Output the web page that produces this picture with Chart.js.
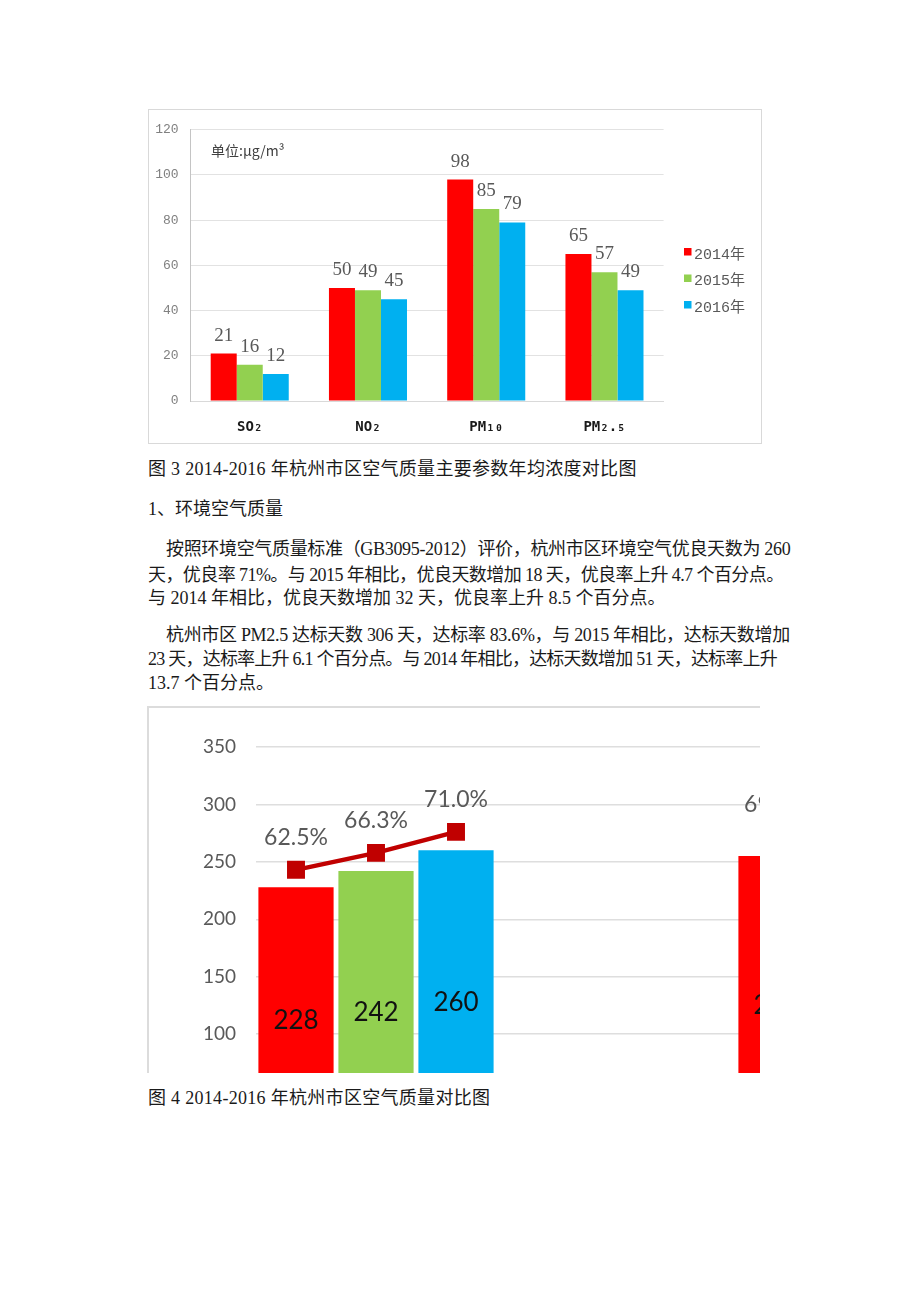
<!DOCTYPE html>
<html><head><meta charset="utf-8">
<script src="https://cdn.jsdelivr.net/npm/chart.js@4.4.1/dist/chart.umd.min.js"></script>
<style>
html,body{margin:0;padding:0;background:#fff;}
body{width:920px;height:1302px;position:relative;overflow:hidden;}
.t{position:absolute;font-family:'Liberation Serif','Noto Sans CJK SC',serif;font-size:18px;color:#1a1a1a;white-space:nowrap;line-height:24px;}
.c{letter-spacing:0.3px;}
#box1{position:absolute;left:148px;top:109px;width:612px;height:333px;border:1px solid #d9d9d9;}
#box2{position:absolute;left:147px;top:706px;width:611px;height:365px;overflow:hidden;border-left:2px solid #dcdcdc;border-top:2px solid #dcdcdc;}
#c1{position:absolute;left:0;top:0;}
#c2{position:absolute;left:0;top:0;}
#unit{position:absolute;left:62px;top:31px;font-family:'Noto Sans CJK SC',sans-serif;font-size:14px;color:#404040;line-height:18px;white-space:nowrap;}
</style>
</head><body>
<div id="box1"><canvas id="c1" width="612" height="333"></canvas><div id="unit">单位:μg/m³</div></div>
<div class="t c" style="left:148px;top:457px;">图 3 2014-2016 年杭州市区空气质量主要参数年均浓度对比图</div>
<div class="t" style="left:148px;top:497px;">1、环境空气质量</div>
<div class="t" style="left:166px;top:537px;letter-spacing:-0.33px;">按照环境空气质量标准（GB3095-2012）评价，杭州市区环境空气优良天数为 260</div>
<div class="t" style="left:148px;top:563px;letter-spacing:-0.57px;">天，优良率 71%。与 2015 年相比，优良天数增加 18 天，优良率上升 4.7 个百分点。</div>
<div class="t" style="left:148px;top:586px;">与 2014 年相比，优良天数增加 32 天，优良率上升 8.5 个百分点。</div>
<div class="t" style="left:166px;top:623px;letter-spacing:-0.32px;">杭州市区 PM2.5 达标天数 306 天，达标率 83.6%，与 2015 年相比，达标天数增加</div>
<div class="t" style="left:148px;top:647px;letter-spacing:-0.77px;">23 天，达标率上升 6.1 个百分点。与 2014 年相比，达标天数增加 51 天，达标率上升</div>
<div class="t" style="left:148px;top:671px;">13.7 个百分点。</div>
<div id="box2"><canvas id="c2" width="880" height="481"></canvas></div>
<div class="t c" style="left:148px;top:1086px;">图 4 2014-2016 年杭州市区空气质量对比图</div>
<script>
// ---- Figure 3 data ----
const pollutants = ['SO₂', 'NO₂', 'PM₁₀', 'PM₂.₅'];
const years = ['2014年', '2015年', '2016年'];
const conc2014 = [21, 50, 98, 65];
const conc2015 = [16, 49, 85, 57];
const conc2016 = [12, 45, 79, 49];
const concTicks = [0, 20, 40, 60, 80, 100, 120];

// ---- Figure 4 data ----
const dayYears = ['2014年', '2015年', '2016年'];
const goodDays = [228, 242, 260];
const goodRate = [62.5, 66.3, 71.0];
const pm25Days = [255, 283, 306];
const pm25Rate = [69.9, 77.5, 83.6];
const yearColors = ['#FF0000', '#92D050', '#00B0F0'];
const dayTicks = [0, 50, 100, 150, 200, 250, 300, 350];

// ---------- Chart 1 ----------
const labels1 = {
  id: 'labels1',
  afterDatasetsDraw(chart) {
    const ctx = chart.ctx;
    ctx.save();
    ctx.font = "19px 'Liberation Serif', serif";
    ctx.fillStyle = '#595959';
    ctx.textAlign = 'center';
    ctx.textBaseline = 'alphabetic';
    chart.data.datasets.forEach((ds, i) => {
      chart.getDatasetMeta(i).data.forEach((el, j) => {
        ctx.fillText(String(ds.data[j]), el.x, el.y - 13);
      });
    });
    // legend
    ctx.textAlign = 'left';
    ctx.textBaseline = 'middle';
    ctx.font = "15px 'Liberation Mono', 'Noto Sans CJK SC', monospace";
    chart.data.datasets.forEach((ds, i) => {
      const cy = 145 + i * 26.5;
      ctx.fillStyle = ds.backgroundColor;
      ctx.fillRect(535, cy - 7, 7.5, 7.5);
      ctx.fillStyle = '#595959';
      ctx.fillText(ds.label, 545, cy);
    });
    ctx.restore();
  }
};

new Chart(document.getElementById('c1'), {
  type: 'bar',
  data: {
    labels: pollutants,
    datasets: [
      { label: years[0], data: conc2014, backgroundColor: yearColors[0] },
      { label: years[1], data: conc2015, backgroundColor: yearColors[1] },
      { label: years[2], data: conc2016, backgroundColor: yearColors[2] }
    ]
  },
  options: {
    responsive: false, animation: false, devicePixelRatio: 1,
    layout: { padding: { left: 0, right: 97.4, top: 17, bottom: 0 } },
    plugins: { legend: { display: false }, tooltip: { enabled: false } },
    datasets: { bar: { categoryPercentage: 0.66, barPercentage: 1 } },
    scales: {
      x: {
        grid: { display: false, drawTicks: false },
        border: { color: '#d9d9d9' },
        ticks: { padding: 18, color: '#1a1a1a', font: { family: "'DejaVu Sans Mono',monospace", size: 14, weight: 'bold' } },
        afterFit(s) { s.height = 42; }
      },
      y: {
        min: 0, max: 120,
        afterBuildTicks(s) { s.ticks = concTicks.map(v => ({ value: v })); },
        ticks: { padding: 12, color: '#808080', font: { family: "'Liberation Mono',monospace", size: 13 } },
        grid: { color: '#e2e2e2', drawTicks: false },
        border: { color: '#c4c4c4' },
        afterFit(s) { s.width = 41.6; }
      }
    }
  },
  plugins: [labels1]
});

// ---------- Chart 2 ----------
const gap = ['', '', ''];
const slotLabels = [...dayYears, ...gap, ...dayYears];
const barValues = [...goodDays, ...gap.map(() => null), ...pm25Days];
const rateValues = [...goodRate, ...gap.map(() => null), ...pm25Rate];
const barColors = [...yearColors, ...gap.map(() => '#fff'), ...yearColors];

const labels2 = {
  id: 'labels2',
  afterDatasetsDraw(chart) {
    const ctx = chart.ctx;
    ctx.save();
    ctx.textAlign = 'center';
    ctx.textBaseline = 'middle';
    const barMeta = chart.getDatasetMeta(1);
    ctx.font = "26px Lato, sans-serif";
    ctx.fillStyle = '#111';
    barMeta.data.forEach((el, j) => {
      const v = chart.data.datasets[1].data[j];
      if (v == null) return;
      ctx.fillText(String(v), el.x, (el.y + el.base) / 2 + 3);
    });
    const lineMeta = chart.getDatasetMeta(0);
    ctx.font = "23px Lato, sans-serif";
    ctx.fillStyle = '#595959';
    lineMeta.data.forEach((el, j) => {
      const v = chart.data.datasets[0].data[j];
      if (v == null) return;
      ctx.fillText(v.toFixed(1) + '%', el.x, el.y - 32);
    });
    ctx.restore();
  }
};

new Chart(document.getElementById('c2'), {
  data: {
    labels: slotLabels,
    datasets: [
      {
        type: 'line', label: '比率', data: rateValues, yAxisID: 'y2', order: 0,
        borderColor: '#C00000', borderWidth: 4.5, spanGaps: false,
        pointStyle: 'rect', pointRadius: 12.7, pointBackgroundColor: '#C00000', pointBorderWidth: 0
      },
      {
        type: 'bar', label: '天数', data: barValues, yAxisID: 'y', order: 1,
        backgroundColor: barColors, categoryPercentage: 1, barPercentage: 0.94
      }
    ]
  },
  options: {
    responsive: false, animation: false, devicePixelRatio: 1,
    layout: { padding: { left: 0, right: 53, top: 39, bottom: 0 } },
    plugins: { legend: { display: false }, tooltip: { enabled: false } },
    scales: {
      x: {
        grid: { display: false, drawTicks: false },
        border: { display: false },
        ticks: { display: false },
        afterFit(s) { s.height = 40; }
      },
      y: {
        min: 0, max: 350,
        afterBuildTicks(s) { s.ticks = dayTicks.map(v => ({ value: v })); },
        ticks: { padding: 20, color: '#595959', font: { family: 'Lato, sans-serif', size: 19 } },
        grid: { color: '#dedede', lineWidth: 1.5, drawTicks: false },
        border: { display: false },
        afterFit(s) { s.width = 107; }
      },
      y2: { display: false, position: 'right', min: 0, max: 90 }
    }
  },
  plugins: [labels2]
});
</script>
</body></html>
